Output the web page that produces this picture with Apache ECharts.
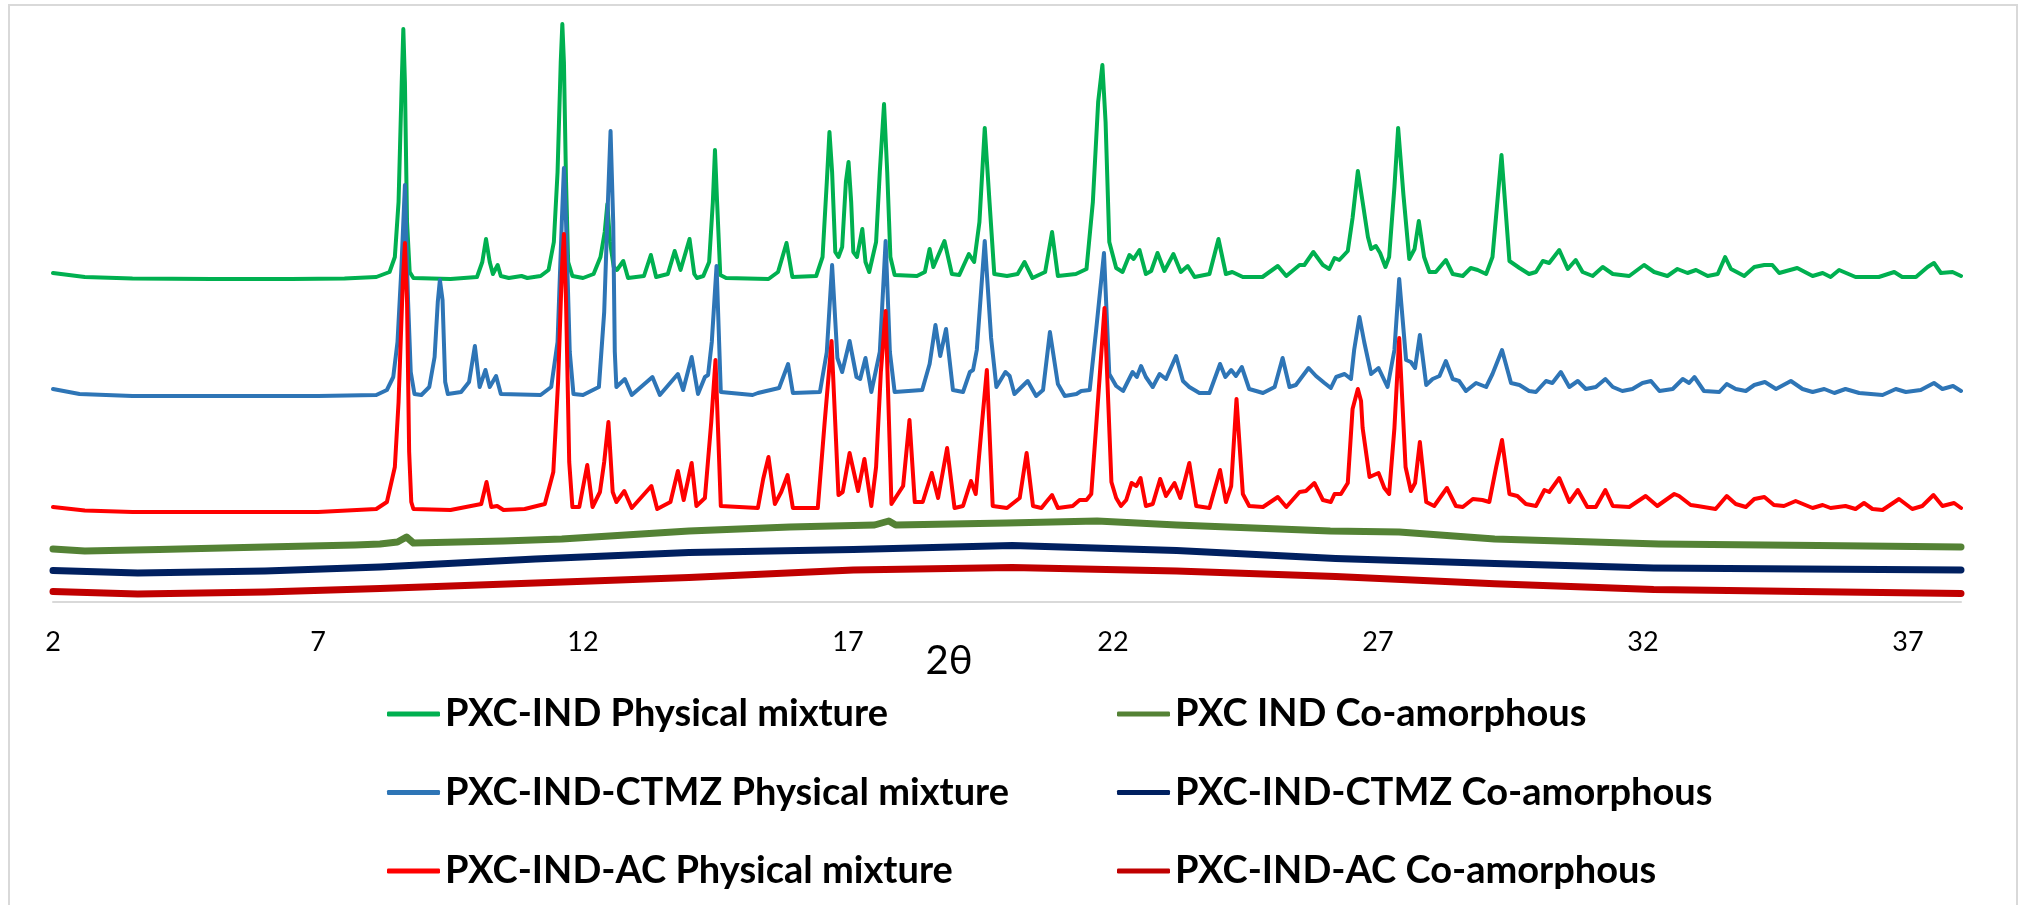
<!DOCTYPE html>
<html>
<head>
<meta charset="utf-8">
<title>PXRD</title>
<script src="https://cdn.jsdelivr.net/npm/echarts@6/dist/echarts.min.js"></script>
<style>
  html, body { margin: 0; padding: 0; background: #fff; }
  #chart { width: 2022px; height: 905px; }
</style>
</head>
<body>
<div id="chart"></div>
<script>
// 2θ axis ticks
const xMin = 2;
const xMax = 38;
const xStep = 5;

const seriesNames = [
  'PXC-IND Physical mixture',
  'PXC-IND-CTMZ Physical mixture',
  'PXC-IND-AC Physical mixture',
  'PXC IND Co-amorphous',
  'PXC-IND-CTMZ Co-amorphous',
  'PXC-IND-AC Co-amorphous'
];

// offset intensities (a.u.): [2θ, intensity]
const pxcIndPM = [
  [2.0,329],[2.6,325],[3.5,323.5],[5,323],[6.5,323],[7.5,323.5],[8.1,325],[8.35,330],[8.45,345],[8.52,400],[8.58,520],[8.61,573],[8.64,520],[8.68,380],[8.73,330],[8.8,324],
  [9.5,323],[10.0,325],[10.1,340],[10.17,363],[10.24,340],[10.3,328],[10.39,337],[10.45,326],[10.6,324],[10.84,326],[10.95,324],[11.2,326],[11.35,332],[11.45,360],[11.52,430],[11.58,540],[11.61,578],[11.64,540],[11.68,420],[11.72,340],[11.8,326],
  [12.0,324],[12.2,328],[12.33,345],[12.41,370],[12.46,398],[12.51,360],[12.58,335],[12.64,332],[12.76,341],[12.85,324],[13.15,326],[13.28,347],[13.38,325],[13.6,328],[13.73,351],[13.84,332],[14.01,363],[14.1,328],[14.15,324],[14.27,326],[14.38,340],[14.45,400],[14.49,452],[14.53,400],[14.59,327],[14.7,324],
  [15.5,323],[15.68,330],[15.84,359],[15.95,325],[16.4,326],[16.52,345],[16.6,420],[16.65,470],[16.7,430],[16.76,350],[16.82,345],[16.89,355],[16.96,420],[17.01,440],[17.06,400],[17.1,350],[17.17,345],[17.27,373],[17.33,340],[17.4,330],[17.53,360],[17.6,430],[17.68,498],[17.74,430],[17.8,345],[17.88,327],
  [18.3,326],[18.45,330],[18.54,353],[18.61,335],[18.82,361],[18.96,328],[19.1,327],[19.28,348],[19.38,340],[19.48,380],[19.58,474],[19.67,400],[19.76,328],[20.0,326],
  [20.2,328],[20.33,340],[20.48,324],[20.72,330],[20.85,370],[20.96,326],[21.3,328],[21.5,333],[21.62,400],[21.72,500],[21.8,537],[21.86,480],[21.93,360],[22.06,334],[22.18,330],[22.31,347],[22.39,343],[22.5,352],[22.62,328],[22.72,331],[22.84,349],[22.97,331],[23.14,348],[23.28,330],[23.41,336],[23.54,325],[23.82,328],[23.99,363],[24.13,328],[24.25,330],[24.45,325],[24.82,325],
  [25.11,336],[25.27,326],[25.52,337],[25.61,337],[25.78,350],[25.96,337],[26.08,333],[26.18,344],[26.27,342],[26.43,351],[26.52,384],[26.62,431],[26.71,400],[26.81,365],[26.87,353],[26.96,356],[27.04,349],[27.14,335],[27.21,345],[27.31,415],[27.38,474],[27.48,407],[27.59,343],[27.69,353],[27.77,381],[27.87,345],[27.97,330],
  [28.09,330],[28.28,342],[28.41,328],[28.6,326],[28.75,334],[28.88,332],[29.04,328],[29.16,345],[29.33,447],[29.48,341],[29.67,334],[29.85,328],[29.98,330],[30.11,341],[30.23,339],[30.42,352],[30.58,333],[30.73,342],[30.86,330],[31.05,326],[31.24,335],[31.43,328],[31.74,326],[32.02,337],[32.21,330],
  [32.46,326],[32.65,333],[32.84,329],[33.0,332],[33.22,326],[33.41,328],[33.55,345],[33.66,333],[33.91,326],[34.1,335],[34.29,337],[34.44,337],[34.57,329],[34.91,334],[35.2,326],[35.39,329],[35.54,325],[35.7,332],[36.01,325],[36.45,325],[36.74,330],[36.89,325],[37.15,325],[37.37,335],[37.49,339],[37.62,329],[37.84,330],[38.0,326]
];

const pxcIndCtmzPM = [
  [2.0,213],[2.5,208],[3.5,206],[5,206],[7,206],[8.1,207],[8.3,212],[8.42,225],[8.5,260],[8.57,330],[8.64,417],[8.7,300],[8.75,230],[8.82,208],[8.95,207],
  [9.1,215],[9.2,245],[9.26,300],[9.3,322],[9.35,302],[9.4,220],[9.45,208],[9.7,210],[9.85,220],[9.96,256],[10.05,215],[10.16,232],[10.24,215],[10.36,226],[10.45,208],
  [11.2,207],[11.4,215],[11.52,260],[11.6,380],[11.64,434],[11.68,380],[11.75,250],[11.82,208],[12.0,207],[12.3,215],[12.4,290],[12.47,400],[12.52,471],[12.57,380],[12.6,250],[12.63,215],[12.79,223],[12.92,207],
  [13.31,225],[13.45,207],[13.79,228],[13.89,212],[14.05,245],[14.17,208],[14.3,225],[14.36,227],[14.43,260],[14.52,336],[14.6,210],[15.2,207],[15.3,209],[15.7,214],[15.87,238],[15.96,209],
  [16.47,210],[16.6,250],[16.7,337],[16.8,244],[16.89,230],[17.03,261],[17.16,225],[17.23,223],[17.33,244],[17.44,210],[17.6,250],[17.71,361],[17.79,250],[17.88,210],
  [18.4,212],[18.54,238],[18.65,277],[18.74,246],[18.85,273],[18.98,212],[19.17,210],[19.3,230],[19.36,232],[19.43,252],[19.58,361],[19.7,264],[19.8,215],[19.97,230],[20.05,226],[20.14,208],
  [20.39,221],[20.55,206],[20.68,212],[20.81,270],[20.96,218],[21.09,206],[21.31,208],[21.4,211],[21.56,212],[21.68,271],[21.83,349],[21.93,228],[22.06,216],[22.19,211],[22.37,230],[22.45,225],[22.53,236],[22.62,225],[22.75,215],[22.88,228],[23.0,223],[23.19,246],[23.32,221],[23.44,215],[23.63,209],[23.82,209],
  [24.02,238],[24.12,225],[24.23,232],[24.32,226],[24.43,235],[24.57,213],[24.83,209],[25.05,215],[25.2,244],[25.33,215],[25.45,217],[25.69,234],[25.83,226],[25.99,219],[26.11,214],[26.21,225],[26.37,228],[26.49,223],
  [26.55,252],[26.65,285],[26.74,260],[26.87,228],[27.01,234],[27.18,215],[27.31,252],[27.4,323],[27.53,242],[27.62,240],[27.7,234],[27.79,267],[27.91,217],[28.03,223],[28.16,226],[28.28,241],[28.41,223],[28.53,221],[28.66,211],[28.85,219],
  [29.04,215],[29.16,228],[29.34,252],[29.51,219],[29.67,217],[29.85,211],[29.98,210],[30.17,221],[30.29,219],[30.45,230],[30.61,215],[30.77,221],[30.92,213],[31.11,215],[31.29,223],[31.43,215],[31.61,211],[31.8,213],[31.99,219],[32.15,221],[32.31,211],
  [32.56,213],[32.75,223],[32.87,219],[32.97,225],[33.15,211],[33.44,210],[33.58,218],[33.75,213],[33.94,211],[34.1,217],[34.3,220],[34.51,213],[34.79,221],[35.01,213],[35.2,210],[35.42,213],[35.61,209],[35.82,213],[36.08,209],[36.52,207],[36.77,213],[36.96,210],[37.24,212],[37.49,219],[37.65,213],[37.85,216],[38.0,211]
];

const pxcIndAcPM = [
  [2.0,95],[2.6,91.5],[3.5,90],[5,90],[7,90],[8.1,93],[8.3,100],[8.45,135],[8.52,200],[8.6,320],[8.64,359],[8.68,300],[8.72,150],[8.76,100],[8.8,93],
  [9.5,92],[10.08,98],[10.18,120],[10.27,95],[10.38,96],[10.5,92],[10.9,93],[11.28,98],[11.44,130],[11.53,220],[11.6,330],[11.64,368],[11.68,300],[11.74,140],[11.8,95],[11.93,95],
  [12.08,137],[12.18,95],[12.32,110],[12.4,140],[12.48,180],[12.56,110],[12.63,100],[12.78,111],[12.92,94],[13.29,116],[13.4,93],[13.65,100],[13.79,131],[13.9,102],[14.05,139],[14.14,96],[14.3,104],[14.42,180],[14.5,242],[14.6,96],
  [15.3,94],[15.4,123],[15.5,145],[15.62,98],[15.74,110],[15.86,127],[15.96,94],[16.43,94],[16.56,180],[16.69,261],[16.82,107],[16.9,110],[17.03,149],[17.19,111],[17.31,143],[17.44,96],[17.53,135],[17.62,230],[17.71,291],[17.82,98],
  [18.04,116],[18.16,182],[18.26,100],[18.41,100],[18.58,129],[18.7,104],[18.87,154],[19.01,94],[19.17,96],[19.32,121],[19.41,108],[19.52,174],[19.62,232],[19.73,96],[20.0,94],
  [20.24,104],[20.37,149],[20.49,96],[20.65,94],[20.74,100],[20.85,107],[20.96,94],[21.24,96],[21.37,102],[21.5,102],[21.59,108],[21.68,174],[21.84,294],[21.97,120],[22.06,104],[22.15,96],[22.25,102],[22.35,119],[22.44,116],[22.52,124],[22.62,96],[22.75,98],[22.89,123],[23.0,106],[23.16,119],[23.27,104],[23.44,139],[23.57,96],[23.82,94],
  [24.02,132],[24.13,100],[24.23,116],[24.33,203],[24.45,108],[24.57,96],[24.83,95],[25.11,105],[25.27,95],[25.52,110],[25.64,111],[25.8,119],[25.96,102],[26.11,100],[26.18,108],[26.3,108],[26.43,119],[26.52,193],[26.62,213],[26.68,201],[26.71,174],[26.84,125],
  [27.01,129],[27.12,114],[27.21,108],[27.31,174],[27.4,264],[27.52,135],[27.62,111],[27.7,119],[27.79,160],[27.91,100],[28.06,96],[28.3,114],[28.47,96],[28.6,95],[28.79,103],[28.97,102],[29.1,100],[29.23,135],[29.34,162],[29.48,108],[29.63,106],[29.79,98],[29.98,96],
  [30.14,112],[30.23,110],[30.42,124],[30.61,100],[30.77,112],[30.95,95],[31.11,95],[31.29,112],[31.43,96],[31.74,95],[32.05,106],[32.27,96],[32.43,102],[32.59,108],[32.68,106],[32.9,97],[33.03,96],[33.37,93],[33.58,106],[33.75,98],[33.94,95],
  [34.1,103],[34.29,105],[34.47,97],[34.66,96],[34.88,101],[35.2,94],[35.39,97],[35.54,94],[35.82,96],[36.01,93],[36.17,99],[36.33,93],[36.52,92],[36.83,103],[37.08,93],[37.27,96],[37.48,107],[37.65,96],[37.87,99],[38.0,94]
];

const pxcIndCA = [
  [2.0,53],[2.6,51],[4,52.5],[6,55],[7.7,57],[8.17,58],[8.5,60],[8.67,65],[8.8,59],[10.5,61],[11.6,63],[14.0,71],[15.9,75],[17.5,77],[17.77,81],[17.9,77],
  [20.0,79],[21.7,81],[23.2,77],[26.1,71],[27.4,70],[29.2,63],[32.3,58],[35.3,56.5],[38.0,55]
];

const pxcIndCtmzCA = [
  [2.0,31.5],[3.6,29],[6,31],[8.17,35],[11.1,43],[14.0,49.5],[17.1,52.5],[20.1,56.5],[23.2,51.5],[26.2,43.5],[29.2,38.5],[32.2,34],[35,33],[38.0,32]
];

const pxcIndAcCA = [
  [2.0,10.5],[3.6,8],[6,10],[8.17,13.5],[11.1,19],[14.0,24.5],[17.1,32],[20.1,34.5],[23.2,31],[26.2,25.5],[29.2,18.3],[32.2,12.5],[35,10.5],[38.0,8.6]
];

const seriesData = [pxcIndPM, pxcIndCtmzPM, pxcIndAcPM, pxcIndCA, pxcIndCtmzCA, pxcIndAcCA];
const seriesColors = ['#00B050', '#2E75B6', '#FF0000', '#548235', '#002060', '#C00000'];
const seriesWidths = [4, 4, 4, 7, 7, 7];

const chart = echarts.init(document.getElementById('chart'), null, { renderer: 'canvas' });

const legendText = {
  fontFamily: 'Lato',
  fontWeight: 'bold',
  fontSize: 38,
  lineHeight: 40,
  color: '#000'
};

const option = {
  animation: false,
  backgroundColor: '#fff',
  graphic: [
    {
      type: 'rect',
      shape: { x: 9, y: 5, width: 2008, height: 910 },
      style: { fill: 'none', stroke: '#D9D9D9', lineWidth: 2 },
      silent: true
    }
  ],
  grid: { left: 53, right: 61, top: 22, bottom: 303 },
  xAxis: {
    type: 'value',
    min: xMin,
    max: xMax,
    interval: xStep,
    name: '2θ',
    nameLocation: 'middle',
    nameGap: 39,
    nameMoveOverlap: false,
    nameTextStyle: {
      fontFamily: 'Lato',
      fontSize: 40,
      color: '#000',
      padding: [0, 116, 0, 0]
    },
    axisLine: { show: true, onZero: false, lineStyle: { color: '#D9D9D9', width: 2 } },
    axisTick: { show: false },
    splitLine: { show: false },
    axisLabel: {
      showMaxLabel: false,
      margin: 27,
      fontFamily: 'Lato',
      fontSize: 27,
      color: '#000'
    }
  },
  yAxis: {
    type: 'value',
    min: 0,
    max: 580,
    show: false,
    splitLine: { show: false }
  },
  legend: [
    {
      data: seriesNames.slice(0, 3),
      orient: 'vertical',
      left: 387,
      top: 694,
      padding: 0,
      itemGap: 38.5,
      itemWidth: 53,
      itemHeight: 5,
      icon: 'roundRect',
      textStyle: legendText
    },
    {
      data: seriesNames.slice(3),
      orient: 'vertical',
      left: 1117,
      top: 694,
      padding: 0,
      itemGap: 38.5,
      itemWidth: 53,
      itemHeight: 5,
      icon: 'roundRect',
      textStyle: legendText
    }
  ],
  series: seriesNames.map(function (name, i) {
    return {
      name: name,
      type: 'line',
      data: seriesData[i],
      showSymbol: false,
      symbol: 'none',
      smooth: false,
      color: seriesColors[i],
      lineStyle: { color: seriesColors[i], width: seriesWidths[i], join: 'round', cap: 'round' }
    };
  })
};

chart.setOption(option);
</script>
</body>
</html>
